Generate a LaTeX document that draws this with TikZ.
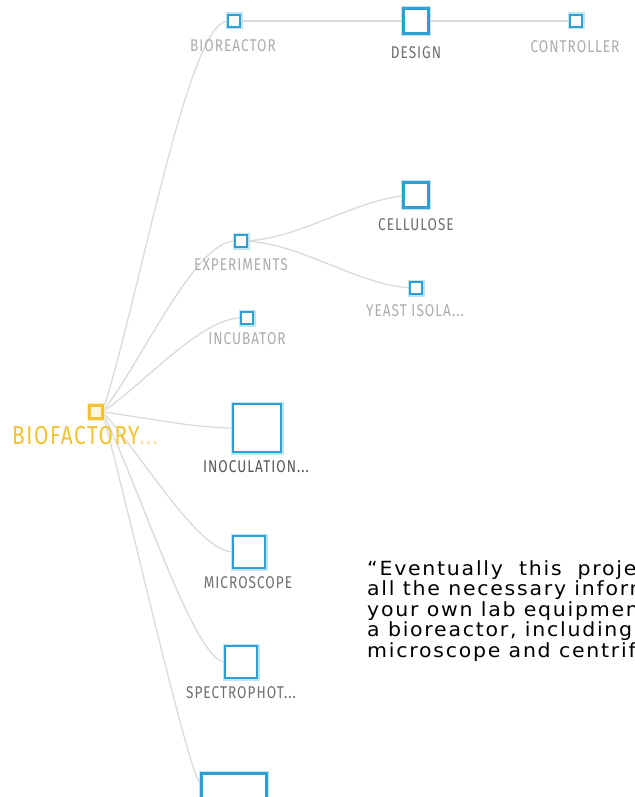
\documentclass[tikz,border=0pt]{standalone}
\usepackage{fontspec}
\usetikzlibrary{calc}
\newfontfamily\labfont[FakeStretch=0.8,LetterSpace=6]{Fira Sans}
\newfontfamily\txtfont[FakeStretch=1.05,LetterSpace=9]{DejaVu Sans}
\definecolor{boxblue}{HTML}{2E9FD2}
\definecolor{glowblue}{HTML}{BFE5F5}
\definecolor{edgegray}{HTML}{DADADA}
\definecolor{labl}{HTML}{ABABAB}
\definecolor{labd}{HTML}{6E6E6E}
\definecolor{labdd}{HTML}{555555}
\definecolor{gold}{HTML}{F2C230}
\pgfdeclarelayer{bg}
\pgfsetlayers{bg,main}
\begin{document}
\begin{tikzpicture}[x=1pt,y=-1pt,
  sqbox/.style={draw=boxblue, line width=2.2pt, fill=white, minimum size=#1, inner sep=0pt, outer sep=0pt, preaction={draw=glowblue, line width=5pt}},
  rootbox/.style={draw=gold, line width=2.2pt, fill=gold!15, minimum size=#1, inner sep=0pt, outer sep=0pt, preaction={draw=gold!30, line width=5pt}},
  lab/.style={font=\labfont\fontsize{17}{17}\selectfont, inner sep=0pt, text=labl},
  labdark/.style={lab, text=labd},
  link/.style={draw=edgegray, line width=1.3pt},
  txt/.style={font=\txtfont\fontsize{19.5}{19.5}\selectfont, inner sep=0pt, text=black, anchor=base west},
]
\useasboundingbox (0,0) rectangle (634,797);
\clip (0,0) rectangle (634,797);
% boxes
\node[sqbox=12] (bior) at (234,21) {};
\node[sqbox=25] (design) at (416,21) {};
\node[sqbox=12] (ctrl) at (576,21) {};
\node[sqbox=12] (exp) at (241,241) {};
\node[sqbox=25] (cell) at (416,195) {};
\node[sqbox=12] (yeast) at (416,288) {};
\node[sqbox=12] (incu) at (247,318) {};
\node[rootbox=13] (root) at (96,412) {};
\node[sqbox=48] (inoc) at (257,428) {};
\node[sqbox=32] (micro) at (249,552) {};
\node[sqbox=32] (spec) at (241,662) {};
\node[sqbox=65] (last) at (234,806) {};
\coordinate (lastin) at (201,784);
% labels
\node[lab] (lbior) at (233,46) {BIOREACTOR};
\node[labdark] (ldesign) at (416,53) {DESIGN};
\node[lab] (lctrl) at (575,47) {CONTROLLER};
\node[lab] (lexp) at (241,265) {EXPERIMENTS};
\node[labdark] (lcell) at (416,225) {CELLULOSE};
\node[lab] (lyeast) at (415,311) {YEAST ISOLA...};
\node[lab] (lincu) at (247,339) {INCUBATOR};
\node[labdark, text=labdd] (linoc) at (256,467) {INOCULATION...};
\node[labdark] (lmicro) at (248,583) {MICROSCOPE};
\node[labdark] (lspec) at (241,693) {SPECTROPHOT...};
\node[lab, text=gold, font=\labfont\fontsize{26}{26}\selectfont, anchor=west] (lroot) at (12,436) {BIOFACTORY\textcolor{gold!45}{...}};
% text
\node[txt] (t1) at (367,575) {\spaceskip=16pt “Eventually this project};
\node[txt] (t2) at (367,595.5) {all the necessary information};
\node[txt] (t3) at (367,616) {your own lab equipment};
\node[txt] (t4) at (367,636.5) {a bioreactor, including};
\node[txt] (t5) at (367,657) {microscope and centrifuge};
% edges
\begin{pgfonlayer}{bg}
\draw[link] (bior.center) -- (design.center) -- (ctrl.center);
\draw[link] (exp.center) .. controls (300,241) and (360,195) .. (cell.center);
\draw[link] (exp.center) .. controls (300,241) and (360,288) .. (yeast.center);
\draw[link] (root.east) .. controls ($(root.east)!0.3!(bior.west)$) and +(-40,0) .. (bior.west);
\draw[link] (root.east) .. controls ($(root.east)!0.3!(exp.west)$) and +(-40,0) .. (exp.west);
\draw[link] (root.east) .. controls ($(root.east)!0.3!(incu.west)$) and +(-40,0) .. (incu.west);
\draw[link] (root.east) .. controls ($(root.east)!0.3!(inoc.west)$) and +(-40,0) .. (inoc.west);
\draw[link] (root.east) .. controls ($(root.east)!0.3!(micro.west)$) and +(-35,0) .. (micro.west);
\draw[link] (root.east) .. controls ($(root.east)!0.3!(spec.west)$) and +(-30,0) .. (spec.west);
\draw[link] (root.east) .. controls ($(root.east)!0.3!(lastin)$) and +(-10,0) .. (lastin);
\end{pgfonlayer}
\end{tikzpicture}
\end{document}
